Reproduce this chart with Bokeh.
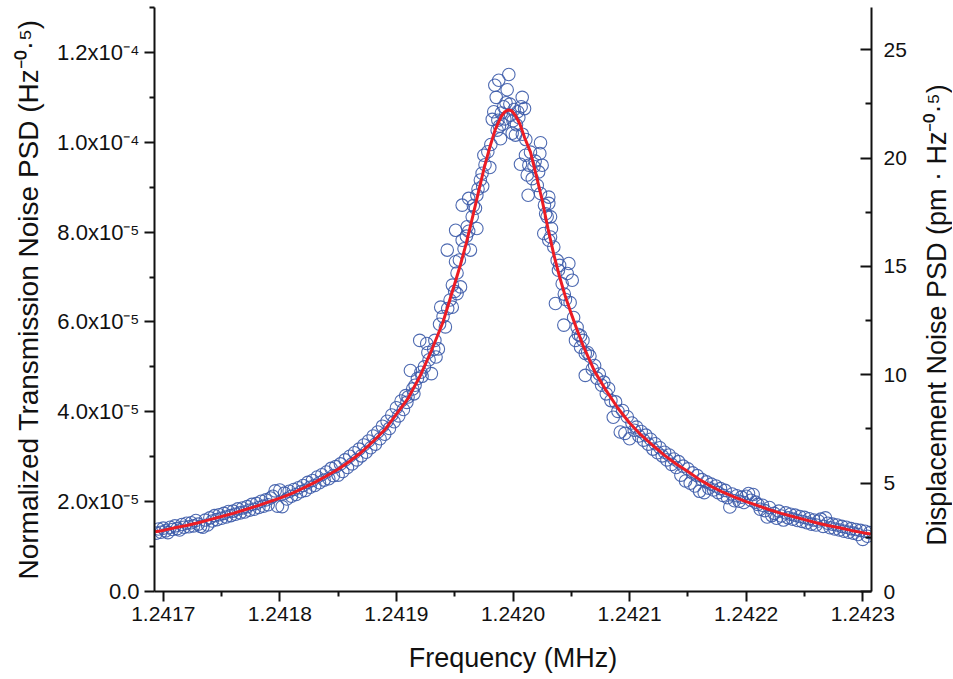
import math
from bokeh.plotting import figure
from bokeh.layouts import row
from bokeh.models import Range1d, LinearAxis, FixedTicker, NumeralTickFormatter, Label
from bokeh.embed import file_html
from bokeh.resources import INLINE

# ---------------- data ----------------
F0_MHZ = 1.2417          # frequency origin of the offsets below (MHz)

# measured points: frequency offset from F0 (Hz) and PSD (units of 1e-6 Hz^-0.5)
left_hz = [
    -6, -4, -2, 0, 2, 4, 6, 8, 10, 12,
    14, 16, 18, 20, 22, 24, 26, 28, 30, 32,
    34, 36, 38, 40, 42, 44, 46, 48, 50, 52,
    54, 56, 58, 60, 62, 64, 66, 68, 70, 72,
    74, 76, 78, 80, 82, 84, 86, 88, 90, 92,
    94, 96, 98, 100, 102, 104, 106, 108, 110, 112,
    114, 116, 118, 120, 122, 124, 126, 128, 130, 132,
    134, 136, 138, 140, 142, 144, 146, 148, 150, 152,
    154, 156, 158, 160, 162, 164, 166, 168, 170, 172,
    174, 176, 178, 180, 182, 184, 186, 188, 190, 192,
    194, 196, 198, 200, 202, 204, 206, 208, 210, 212,
    214, 216, 218, 220, 222, 224, 226, 228, 230, 232,
    234, 236, 238, 209, 215, 221, 227, 233, 237,
]
left_psd = [
    13.0, 13.9, 13.2, 14.1, 13.5, 13.1, 14.3, 13.8, 14.6, 14.0,
    13.7, 14.9, 14.3, 15.2, 14.4, 15.3, 14.6, 15.8, 15.0, 14.5,
    14.3, 15.9, 14.8, 16.4, 15.7, 16.9, 16.0, 17.1, 16.3, 17.4,
    16.6, 17.8, 16.9, 17.9, 17.2, 18.4, 17.5, 18.6, 17.7, 18.9,
    18.1, 19.4, 18.3, 19.6, 18.7, 20.1, 19.0, 20.4, 19.3, 20.8,
    21.2, 22.4, 19.0, 22.6, 18.9, 21.9, 20.6, 22.3, 21.2, 22.7,
    21.6, 23.1, 22.2, 23.6, 22.5, 24.3, 23.2, 24.7, 23.6, 25.5,
    24.2, 26.0, 24.8, 26.6, 25.1, 27.4, 25.8, 27.8, 25.9, 28.4,
    26.7, 29.3, 27.6, 30.1, 28.4, 30.9, 29.3, 31.7, 30.2, 32.6,
    31.0, 33.5, 32.0, 34.6, 32.8, 35.5, 34.0, 36.8, 35.0, 37.9,
    36.3, 39.3, 37.8, 40.9, 39.1, 42.4, 40.5, 43.6, 43.3, 49.2,
    45.1, 45.9, 47.4, 55.9, 47.9, 50.0, 55.2, 51.6, 48.5, 53.9,
    52.2, 54.0, 63.3, 42.1, 44.0, 48.8, 53.2, 55.9, 59.5,
]

peak_hz = [
    240, 242, 243.6, 244, 246, 247.9, 248, 250, 250.7, 250.8,
    252, 252, 254, 255, 256.4, 256.4, 258, 260, 260.7, 262,
    262, 263.5, 265, 266, 267.8, 269, 269, 270, 272, 273.5,
    274, 275, 276, 278.4, 280.1, 281, 282.2, 283.5, 284.4, 285.6,
    286.4, 287, 287.8, 288.4, 289.3, 290, 291, 292, 293, 294,
    295, 296.4, 297.3, 298, 299.3, 300, 301, 302.1, 303, 304,
    305, 306.4, 307, 307.9, 308, 309.9, 310.7, 311, 312.2, 313,
    313.6, 315, 316.5, 318, 319, 320.8, 322, 323, 323.6, 323.6,
    325, 326.4, 327, 328, 329.3, 330.7, 330.7, 330.7, 332.2, 332.2,
    333, 335, 336.4, 337.9, 339, 340, 342.2, 343.6, 344, 345,
    346.5, 347.9, 349, 350.8, 352, 353.6, 355, 356, 357.9, 358,
]
peak_psd = [
    61.2, 58.9, 76.0, 63.0, 64.9, 63.3, 68.2, 66.8, 73.4, 80.4,
    66.3, 70.9, 73.8, 67.8, 78.2, 86.0, 76.3, 79.1, 81.2, 87.5,
    80.2, 76.0, 83.4, 85.9, 85.3, 80.8, 88.2, 89.6, 91.6, 93.1,
    90.2, 97.1, 95.0, 97.9, 94.4, 99.5, 105.1, 106.8, 112.7, 110.0,
    102.7, 104.9, 113.8, 103.6, 100.8, 106.5, 104.0, 107.9, 105.2, 108.8,
    111.7, 115.1, 108.5, 106.0, 102.0, 104.8, 107.3, 101.6, 103.9, 106.8,
    105.5, 95.1, 107.9, 110.0, 101.8, 107.5, 97.1, 100.6, 92.7, 88.2,
    94.9, 97.8, 91.9, 94.6, 95.8, 90.4, 93.4, 97.5, 99.9, 88.6,
    94.9, 79.7, 86.0, 84.1, 83.4, 87.8, 86.4, 78.2, 83.4, 78.9,
    80.8, 76.7, 64.1, 73.7, 71.5, 72.6, 68.5, 59.3, 66.2, 65.0,
    70.8, 73.0, 64.3, 69.3, 61.0, 55.9, 58.8, 57.2, 54.4, 56.9,
]

right_hz = [
    360, 362, 364, 366, 368, 370, 372, 374, 376, 378,
    380, 382, 384, 386, 388, 390, 392, 394, 396, 398,
    400, 402, 404, 406, 408, 410, 412, 414, 416, 418,
    420, 422, 424, 426, 428, 430, 432, 434, 436, 438,
    440, 442, 444, 446, 448, 450, 452, 454, 456, 458,
    460, 462, 464, 466, 468, 470, 472, 474, 476, 478,
    480, 482, 484, 486, 488, 490, 492, 494, 496, 498,
    500, 502, 504, 506, 508, 510, 512, 514, 516, 518,
    520, 522, 524, 526, 528, 530, 532, 534, 536, 538,
    540, 542, 544, 546, 548, 550, 552, 554, 556, 558,
    560, 562, 564, 566, 568, 570, 572, 574, 576, 578,
    580, 582, 584, 586, 588, 590, 592, 594, 596, 598,
    600, 602, 604, 606, 362,
]
right_psd = [
    55.9, 48.1, 53.2, 52.4, 49.5, 50.3, 47.5, 48.4, 45.9, 46.6,
    44.0, 45.2, 42.5, 38.8, 42.2, 40.1, 35.5, 40.3, 35.2, 38.9,
    34.0, 37.5, 35.9, 36.6, 34.6, 35.6, 33.7, 34.8, 32.8, 33.9,
    31.7, 32.9, 30.9, 32.0, 30.2, 31.0, 29.3, 30.4, 28.3, 29.5,
    27.6, 28.9, 25.9, 27.9, 24.6, 27.3, 24.1, 26.4, 23.5, 25.8,
    22.3, 24.9, 22.0, 24.4, 23.0, 23.9, 22.6, 23.5, 22.0, 22.9,
    21.4, 22.5, 20.9, 18.8, 21.7, 20.2, 21.3, 20.1, 21.0, 19.8,
    21.2, 21.8, 20.3, 21.6, 19.9, 19.4, 18.3, 19.2, 18.0, 16.6,
    18.7, 16.9, 17.4, 16.3, 17.9, 16.8, 15.9, 17.5, 16.4, 17.2,
    16.1, 17.0, 15.8, 16.7, 15.6, 16.5, 15.3, 16.2, 15.0, 15.9,
    14.8, 15.7, 16.1, 14.5, 16.4, 15.2, 14.2, 15.0, 13.9, 14.8,
    13.7, 14.5, 13.4, 14.3, 13.2, 14.0, 13.0, 13.8, 12.7, 13.6,
    11.6, 13.4, 12.3, 13.1, 53.0,
]

# fitted curve (red) (units of 1e-6)
fit_hz = [
    -7, 0, 10, 20, 30, 40, 50, 60, 70, 80,
    90, 100, 110, 120, 130, 140, 150, 160, 170, 180,
    190, 200, 210, 220, 230, 240, 250, 255, 260, 265,
    270, 275, 280, 285, 290, 293, 296, 299, 302, 306,
    310, 315, 320, 325, 330, 335, 340, 345, 350, 355,
    360, 370, 380, 390, 400, 410, 420, 430, 440, 450,
    460, 470, 480, 490, 500, 510, 520, 530, 540, 550,
    560, 570, 580, 590, 600, 607,
]
fit_psd = [
    13.3, 13.6, 14.2, 14.7, 15.3, 16.0, 16.7, 17.4, 18.2, 19.0,
    19.9, 20.8, 21.8, 23.0, 24.3, 25.7, 27.2, 29.0, 31.0, 33.4,
    36.0, 39.5, 43.0, 47.8, 53.6, 60.0, 68.5, 72.8, 77.6, 83.0,
    88.5, 94.0, 98.8, 103.0, 105.8, 106.8, 107.2, 107.0, 106.0, 104.0,
    101.0, 97.8, 92.6, 87.1, 80.8, 75.0, 70.0, 65.6, 61.8, 58.2,
    54.8, 49.0, 44.7, 40.8, 37.5, 34.8, 32.5, 30.3, 28.4, 26.7,
    24.9, 23.4, 22.1, 21.0, 20.0, 19.1, 18.2, 17.4, 16.7, 16.0,
    15.3, 14.7, 14.2, 13.6, 13.1, 12.8,
]

x_ticks = [1.2417, 1.2418, 1.2419, 1.2420, 1.2421, 1.2422, 1.2423]
x_minor = [1.24175, 1.24185, 1.24195, 1.24205, 1.24215, 1.24225]
y_ticks = [0.0, 2e-5, 4e-5, 6e-5, 8e-5, 1.0e-4, 1.2e-4]
y_tick_labels = ["0.0", "2.0x10\u207b\u2075", "4.0x10\u207b\u2075", "6.0x10\u207b\u2075",
                 "8.0x10\u207b\u2075", "1.0x10\u207b\u2074", "1.2x10\u207b\u2074"]
y_minor = [1e-5, 3e-5, 5e-5, 7e-5, 9e-5, 1.1e-4, 1.3e-4]
r_ticks = [0, 5, 10, 15, 20, 25]
r_minor = [2.5, 7.5, 12.5, 17.5, 22.5]

x_title = "Frequency (MHz)"
y_title = "Normalized Transmission Noise PSD (Hz\u207b\u2070\u00b7\u2075)"
r_title = "Displacement Noise PSD (pm \u00b7 Hz\u207b\u2070\u00b7\u2075)"

# ---------------- derived coordinates ----------------
all_hz = left_hz + peak_hz + right_hz
all_psd = left_psd + peak_psd + right_psd
xs = [F0_MHZ + d * 1e-6 for d in all_hz]
ys = [v * 1e-6 for v in all_psd]
xf = [F0_MHZ + d * 1e-6 for d in fit_hz]
yf = [v * 1e-6 for v in fit_psd]

FONT = "Liberation Sans"
BLACK = "#111111"

W, H = 915, 678          # main figure
W2 = 37                  # strip that carries the right-hand title
BL, BR, BT, BB = 154, 44, 7, 87

p = figure(width=W, height=H, output_backend="svg", toolbar_location=None,
           x_range=Range1d(1.2416925, 1.2423075), y_range=Range1d(0, 1.3e-4),
           min_border_left=BL, min_border_right=BR, min_border_top=BT,
           min_border_bottom=BB)
p.extra_y_ranges = {"disp": Range1d(0, 26.95)}
p.outline_line_color = None
p.xgrid.grid_line_color = None
p.ygrid.grid_line_color = None
p.background_fill_color = "white"
p.border_fill_color = "white"

p.scatter(xs, ys, marker="circle", size=12.5, fill_color=None,
          line_color="#3b5aa9", line_width=1.1, line_alpha=0.9)
p.line(xf, yf, line_color="#ec1c24", line_width=3)


def style(ax, size_lbl="21px", size_title="28px"):
    ax.axis_line_color = BLACK
    ax.axis_line_width = 2
    ax.major_tick_line_color = BLACK
    ax.minor_tick_line_color = BLACK
    ax.major_tick_line_width = 2
    ax.minor_tick_line_width = 2
    ax.major_label_text_font = FONT
    ax.major_label_text_font_size = size_lbl
    ax.major_label_text_color = BLACK
    ax.axis_label_text_font = FONT
    ax.axis_label_text_font_size = size_title
    ax.axis_label_text_font_style = "normal"
    ax.axis_label_text_color = BLACK


xa = p.xaxis[0]
xa.ticker = FixedTicker(ticks=x_ticks, minor_ticks=x_minor)
xa.formatter = NumeralTickFormatter(format="0.0000")
xa.axis_label = x_title
style(xa, size_title="27px")
xa.major_tick_in = 0
xa.major_tick_out = 10
xa.minor_tick_in = 0
xa.minor_tick_out = 5
xa.major_label_standoff = 5
xa.axis_label_standoff = 19

ya = p.yaxis[0]
ya.ticker = FixedTicker(ticks=y_ticks, minor_ticks=y_minor)
ya.major_label_overrides = dict(zip(y_ticks, y_tick_labels))
ya.axis_label = y_title
style(ya, size_lbl="22px")
ya.major_tick_in = 0
ya.major_tick_out = 10
ya.minor_tick_in = 0
ya.minor_tick_out = 5
ya.major_label_standoff = 5
ya.axis_label_standoff = 10

ra = LinearAxis(y_range_name="disp",
                ticker=FixedTicker(ticks=r_ticks, minor_ticks=r_minor))
style(ra)
ra.major_tick_in = 11
ra.major_tick_out = 0
ra.minor_tick_in = 6
ra.minor_tick_out = 0
ra.major_label_standoff = 12
p.add_layout(ra, "right")

# narrow strip to the right holding the right-axis title (reads bottom-to-top)
p2 = figure(width=W2, height=H, output_backend="svg", toolbar_location=None,
            x_range=Range1d(0, W2), y_range=Range1d(0, H),
            x_axis_type=None, y_axis_type=None, min_border=0)
p2.outline_line_color = None
p2.xgrid.grid_line_color = None
p2.ygrid.grid_line_color = None
p2.background_fill_color = "white"
p2.border_fill_color = "white"
rt = Label(x=21, y=H - 357, text=r_title, angle=math.pi / 2,
           text_align="center", text_baseline="middle", text_font=FONT,
           text_font_size="27px", text_color=BLACK)
p2.add_layout(rt)

layout = row(p, p2)
open("out.html", "w").write(file_html(layout, INLINE))
